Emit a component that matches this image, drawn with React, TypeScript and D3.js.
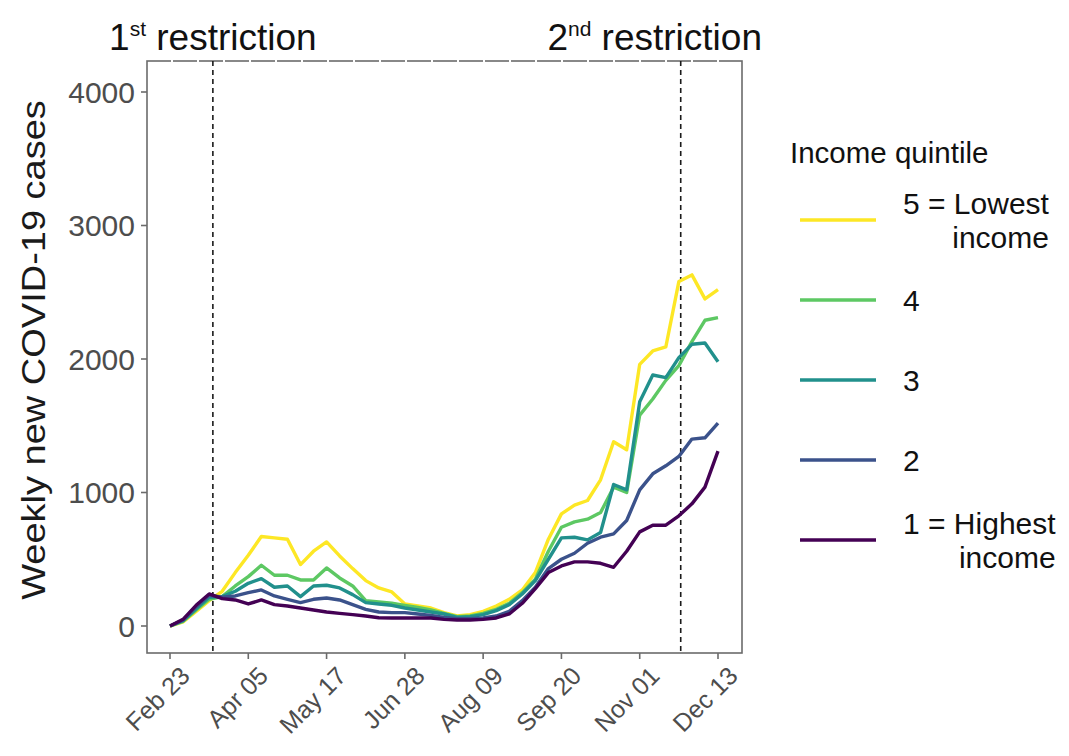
import { useEffect, useRef } from "react";
import * as d3 from "d3";

const width = 1069;
const height = 756;

// panel box
const panelLeft = 147;
const panelRight = 742;
const panelTop = 61;
const panelBottom = 653;

const firstWeek = new Date(2020, 1, 23);
const weekCount = 43;

const restrictionDates = [new Date(2020, 2, 17), new Date(2020, 10, 23)];
const restrictionLabels = [
  { main: "1", sup: "st", rest: " restriction" },
  { main: "2", sup: "nd", rest: " restriction" },
];

const yTicks = [0, 1000, 2000, 3000, 4000];

// weekly new cases, Feb 23 .. Dec 13
const q5 = [
  0, 30, 110, 190, 260, 400, 530, 670, 660, 650, 460, 560, 630, 525, 430, 340,
  285, 255, 165, 150, 135, 100, 75, 85, 110, 150, 200, 270, 400, 650, 840, 905,
  940, 1095, 1380, 1320, 1960, 2060, 2090, 2580, 2630, 2450, 2520,
];
const q4 = [
  0, 35, 120, 200, 220, 300, 370, 455, 380, 380, 345, 345, 435, 360, 300, 190,
  180, 170, 155, 140, 120, 95, 70, 75, 95, 125, 170, 250, 350, 560, 740, 780,
  800, 850, 1040, 1000, 1580, 1700, 1840, 1950, 2130, 2290, 2310,
];
const q3 = [
  0, 40, 130, 215, 220, 260, 320, 355, 290, 300, 220, 300, 305, 285, 235, 175,
  165, 155, 135, 120, 105, 90, 65, 70, 85, 115, 160, 240, 340, 500, 660, 665,
  645, 700, 1060, 1020, 1680, 1880, 1860, 2010, 2110, 2120, 1980,
];
const q2 = [
  0, 45, 145, 230, 215, 225, 250, 270, 225, 200, 175, 200, 210, 195, 160, 125,
  105, 100, 100, 90, 80, 65, 55, 55, 60, 75, 110, 190, 290, 430, 500, 545,
  620, 665, 690, 790, 1020, 1140, 1200, 1270, 1400, 1410, 1520,
];
const q1 = [
  0, 50, 155, 240, 205, 195, 165, 195, 160, 150, 135, 120, 105, 95, 85, 75,
  62, 60, 60, 60, 60, 50, 45, 45, 50, 60, 90, 170, 280, 400, 450, 480,
  480, 470, 440, 560, 705, 755, 755, 825, 915, 1040, 1310,
];

const seriesNames = ["5", "4", "3", "2", "1"];
const seriesValues = [q5, q4, q3, q2, q1];
const seriesColors = ["#FDE725", "#5DC863", "#21908C", "#3B528B", "#440154"];
const legendLabels = [
  ["5 = Lowest", "income"],
  ["4"],
  ["3"],
  ["2"],
  ["1 = Highest", "income"],
];

const fontFamily = "'Liberation Sans', Arial, sans-serif";

export default function App() {
  const svgRef = useRef<SVGSVGElement | null>(null);

  useEffect(() => {
    if (!svgRef.current) return;
    const svg = d3.select(svgRef.current);
    svg.selectAll("*").remove();

    const weeks = d3.range(weekCount).map((i) => d3.timeWeek.offset(firstWeek, i));
    const xTicks = weeks.filter((_, i) => i % 6 === 0);

    const x = d3
      .scaleTime()
      .domain([weeks[0], weeks[weeks.length - 1]])
      .range([170, 718]);
    const y = d3.scaleLinear().domain([0, 4000]).range([626, 92]);

    // 面板
    svg
      .append("rect")
      .attr("x", panelLeft)
      .attr("y", panelTop)
      .attr("width", panelRight - panelLeft)
      .attr("height", panelBottom - panelTop)
      .attr("fill", "#fff")
      .attr("stroke", "#6b6b6b")
      .attr("stroke-width", 1.6);

    svg
      .append("line")
      .attr("x1", panelLeft)
      .attr("x2", panelRight)
      .attr("y1", panelTop)
      .attr("y2", panelTop)
      .attr("stroke", "#fff")
      .attr("stroke-width", 2)
      .attr("stroke-dasharray", "2 24")
      .attr("stroke-dashoffset", -24);

    // y 軸
    const yAxis = svg.append("g");
    yAxis
      .selectAll("line")
      .data(yTicks)
      .join("line")
      .attr("x1", panelLeft - 6)
      .attr("x2", panelLeft)
      .attr("y1", (d) => y(d))
      .attr("y2", (d) => y(d))
      .attr("stroke", "#6b6b6b")
      .attr("stroke-width", 1.6);
    yAxis
      .selectAll("text")
      .data(yTicks)
      .join("text")
      .attr("x", panelLeft - 12)
      .attr("y", (d) => y(d))
      .attr("dy", "0.36em")
      .attr("text-anchor", "end")
      .attr("fill", "#4d4d4d")
      .style("font-family", fontFamily)
      .style("font-size", "30px")
      .text((d) => String(d));

    // x 軸
    const xAxis = svg.append("g");
    xAxis
      .selectAll("line")
      .data(xTicks)
      .join("line")
      .attr("x1", (d) => x(d))
      .attr("x2", (d) => x(d))
      .attr("y1", panelBottom)
      .attr("y2", panelBottom + 6)
      .attr("stroke", "#6b6b6b")
      .attr("stroke-width", 1.6);
    xAxis
      .selectAll("text")
      .data(xTicks)
      .join("text")
      .attr("transform", (d) => `translate(${x(d) + 9},${panelBottom + 12}) rotate(-45)`)
      .attr("text-anchor", "end")
      .attr("dy", "0.7em")
      .attr("fill", "#4d4d4d")
      .style("font-family", fontFamily)
      .style("font-size", "25px")
      .text((d) => d3.timeFormat("%b %d")(d));

    // y 軸標題
    svg
      .append("text")
      .attr(
        "transform",
        `translate(45,${(panelTop + panelBottom) / 2 - 7}) scale(0.88,1) rotate(-90)`,
      )
      .attr("text-anchor", "middle")
      .attr("fill", "#1a1a1a")
      .style("font-family", fontFamily)
      .style("font-size", "38px")
      .text("Weekly new COVID-19 cases");

    // 限制措施虛線
    svg
      .append("g")
      .selectAll("line")
      .data(restrictionDates)
      .join("line")
      .attr("x1", (d) => x(d))
      .attr("x2", (d) => x(d))
      .attr("y1", panelTop)
      .attr("y2", panelBottom)
      .attr("stroke", "#1a1a1a")
      .attr("stroke-width", 1.6)
      .attr("stroke-dasharray", "5 4");

    // 折線
    const line = d3
      .line<number>()
      .x((_, i) => x(weeks[i]))
      .y((d) => y(d));

    svg
      .append("g")
      .selectAll("path")
      .data(seriesValues)
      .join("path")
      .attr("fill", "none")
      .attr("stroke", (_, i) => seriesColors[i])
      .attr("stroke-width", 3.4)
      .attr("stroke-linejoin", "round")
      .attr("d", (d) => line(d));

    // 標註
    const titles = svg
      .append("g")
      .selectAll("text")
      .data(restrictionLabels)
      .join("text")
      .attr("x", (_, i) => (i === 0 ? x(restrictionDates[0]) : 762))
      .attr("y", 50)
      .attr("text-anchor", (_, i) => (i === 0 ? "middle" : "end"))
      .attr("fill", "#111")
      .style("font-family", fontFamily)
      .style("font-size", "37px");
    titles.append("tspan").text((d) => d.main);
    titles
      .append("tspan")
      .attr("dy", -14)
      .style("font-size", "21px")
      .text((d) => d.sup);
    titles
      .append("tspan")
      .attr("dy", 14)
      .text((d) => d.rest);

    // 圖例
    const legend = svg.append("g");
    legend
      .append("text")
      .attr("x", 790)
      .attr("y", 163)
      .attr("fill", "#111")
      .style("font-family", fontFamily)
      .style("font-size", "29.5px")
      .text("Income quintile");

    seriesNames.forEach((name, i) => {
      const ky = 220 + i * 80;
      legend
        .append("line")
        .attr("x1", 800)
        .attr("x2", 876)
        .attr("y1", ky)
        .attr("y2", ky)
        .attr("stroke", seriesColors[i])
        .attr("stroke-width", 3.4);

      const lines = legendLabels[i];
      const gap = 34;
      const firstY = ky - ((lines.length - 1) * gap) / 2;
      const first = legend
        .append("text")
        .attr("x", 903)
        .attr("y", firstY)
        .attr("dy", "0.36em")
        .attr("fill", "#111")
        .attr("data-key", name)
        .style("font-family", fontFamily)
        .style("font-size", "30px")
        .text(lines[0]);
      const w = (first.node() as SVGTextElement).getComputedTextLength();
      lines.slice(1).forEach((txt, j) => {
        legend
          .append("text")
          .attr("x", 903 + w)
          .attr("y", firstY + gap * (j + 1))
          .attr("dy", "0.36em")
          .attr("text-anchor", "end")
          .attr("fill", "#111")
          .style("font-family", fontFamily)
          .style("font-size", "30px")
          .text(txt);
      });
    });
  }, []);

  return (
    <svg
      ref={svgRef}
      width={width}
      height={height}
      viewBox={`0 0 ${width} ${height}`}
      style={{ display: "block", margin: "-8px", background: "#fff" }}
    />
  );
}
